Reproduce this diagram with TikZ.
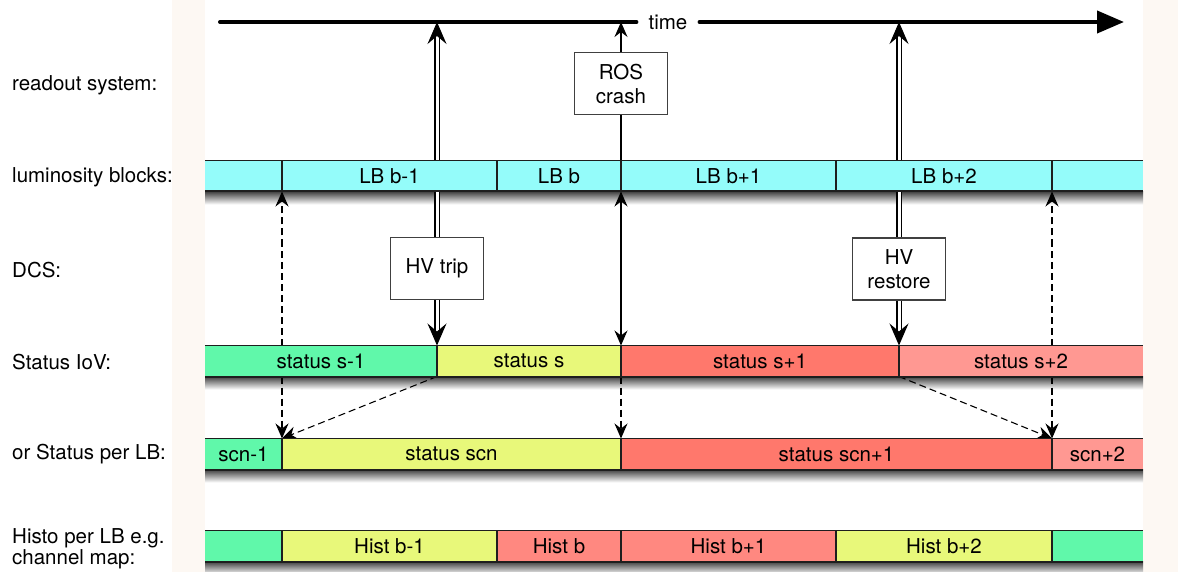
\documentclass[tikz,border=0pt]{standalone}
\usepackage{fontspec}
\setmainfont{TeX Gyre Heros}
\usetikzlibrary{
  arrows.meta,
  positioning,
  backgrounds
}
\definecolor{lbcyan}{RGB}{148,252,250}
\definecolor{okgreen}{RGB}{96,248,170}
\definecolor{warnyellow}{RGB}{232,248,122}
\definecolor{badred}{RGB}{255,120,108}
\definecolor{badpink}{RGB}{255,152,146}
\definecolor{histred}{RGB}{255,136,128}
\definecolor{margin}{RGB}{253,248,243}
\definecolor{edge}{RGB}{30,30,30}

\begin{document}
\begin{tikzpicture}[
  x=1pt, y=-1pt,
  every node/.style={font=\fontsize{20.5}{21}\selectfont},
  rowlabel/.style={anchor=west, align=left, inner sep=0pt},
  seg/.style={anchor=west, minimum height=31pt, inner sep=0pt, outer sep=0pt},
  eventbox/.style={draw=edge!85, line width=1.1pt, fill=white,
               minimum width=93pt, minimum height=62pt, align=center,
               font=\fontsize{20.5}{24}\selectfont},
  topline/.style={draw=edge, line width=1.4pt},
  botline/.style={draw=edge, line width=2pt},
  divline/.style={draw=edge, line width=1.1pt},
  rowshadow/.style={top color=black!75, middle color=black!30, bottom color=white, draw=none},
  timeline/.style={line width=4pt, line cap=round},
  dblline/.style={double, double distance=3pt, line width=1.1pt, shorten >=8pt},
  dbltip/.style={draw=white, line width=1pt,
               -{Stealth[length=22pt, width=19pt, inset=8pt, black]}},
  thinarrow/.style={line width=1.1pt, -{Stealth[length=15pt, width=13pt, inset=5pt]}},
  thinboth/.style={line width=1.1pt,
               {Stealth[length=15pt, width=13pt, inset=5pt]}-{Stealth[length=15pt, width=13pt, inset=5pt]}},
  dasharrow/.style={line width=1.1pt, dash pattern=on 7pt off 4pt,
               -{Stealth[length=15pt, width=13pt, inset=5pt]}}
]
\useasboundingbox (0,0) rectangle (1178,572);

% row labels
\node[rowlabel] (lread) at (12,85) {readout system:};
\node[rowlabel] (llumi) at (12,177) {luminosity blocks:};
\node[rowlabel] (ldcs) at (12,270) {DCS:};
\node[rowlabel] (liov) at (12,362) {Status IoV:};
\node[rowlabel] (lplb) at (12,454) {or Status per LB:};
\node[rowlabel] (lhist) at (12,549) {Histo per LB e.g.\\channel map:};

% time axis
\coordinate (tstart) at (220,22);
\coordinate (tend) at (1124,22);
\node[inner xsep=12pt] (time) at (668,22) {time};
\draw[timeline] (tstart) -- (time);
\draw[timeline, -{Triangle[length=27pt, width=22pt]}] (time) -- (tend);

% luminosity blocks
\node[seg, fill=lbcyan, minimum width=77pt] (lb0) at (205,176) {};
\node[seg, fill=lbcyan, minimum width=215pt] (lb1) at (282,176) {LB b-1};
\node[seg, fill=lbcyan, minimum width=124pt] (lb2) at (497,176) {LB b};
\node[seg, fill=lbcyan, minimum width=215pt] (lb3) at (621,176) {LB b+1};
\node[seg, fill=lbcyan, minimum width=216pt] (lb4) at (836,176) {LB b+2};
\node[seg, fill=lbcyan, minimum width=91pt] (lb5) at (1052,176) {};

% status intervals of validity
\node[seg, fill=okgreen, minimum width=232pt] (st1) at (205,361) {status s-1};
\node[seg, fill=warnyellow, minimum width=184pt] (st2) at (437,361) {status s};
\node[seg, fill=badred, minimum width=278pt] (st3) at (621,361) {status s+1};
\node[seg, fill=badpink, minimum width=244pt] (st4) at (899,361) {status s+2};

% status per LB
\node[seg, fill=okgreen, minimum width=77pt] (sc1) at (205,454) {scn-1};
\node[seg, fill=warnyellow, minimum width=339pt] (sc2) at (282,454) {status scn};
\node[seg, fill=badred, minimum width=431pt] (sc3) at (621,454) {status scn+1};
\node[seg, fill=badpink, minimum width=91pt] (sc4) at (1052,454) {scn+2};

% histograms per LB
\node[seg, fill=okgreen, minimum width=77pt] (hi0) at (205,546) {};
\node[seg, fill=warnyellow, minimum width=215pt] (hi1) at (282,546) {Hist b-1};
\node[seg, fill=histred, minimum width=124pt] (hi2) at (497,546) {Hist b};
\node[seg, fill=histred, minimum width=215pt] (hi3) at (621,546) {Hist b+1};
\node[seg, fill=warnyellow, minimum width=216pt] (hi4) at (836,546) {Hist b+2};
\node[seg, fill=okgreen, minimum width=91pt] (hi5) at (1052,546) {};

% edges of the bars
\foreach \a/\b in {lb0/lb5, st1/st4, sc1/sc4, hi0/hi5} {
  \draw[topline] (\a.north west) -- (\b.north east);
  \draw[botline] (\a.south west) -- (\b.south east);
}
\foreach \n in {lb1, lb2, lb3, lb4, lb5, st2, st3, st4, sc2, sc3, sc4,
                hi1, hi2, hi3, hi4, hi5}
  \draw[divline] (\n.north west) -- (\n.south west);

% events
\node[eventbox] (ros) at (621,83.5) {ROS\\crash};
\node[eventbox] (hvtrip) at (437,268.5) {HV trip};
\node[eventbox] (hvrest) at (899,269) {HV\\restore};

\begin{pgfonlayer}{background}
  \fill[margin] (172,0) rectangle (205,572);
  \fill[margin] (1143,0) rectangle (1178,572);
  \foreach \a/\b in {lb0/lb5, st1/st4, sc1/sc4, hi0/hi5}
    \shade[rowshadow] (\a.south west) rectangle ([yshift=-13pt]\b.south east);

  % readout crash
  \draw[thinarrow] (ros.north) -- (ros.north |- tstart);
  \draw[line width=1.1pt] (ros.south) -- (lb3.north west);
  \draw[thinboth] (lb3.south west) -- (st3.north west);
  \draw[dasharrow] (st3.south west) -- (sc3.north west);

  % HV trip and restore
  \foreach \ev/\st in {hvtrip/st2, hvrest/st4} {
    \draw[dblline] (\ev.north) -- (\ev.north |- tstart);
    \draw[dbltip] (\ev.north) -- (\ev.north |- tstart);
    \draw[dblline] (\ev.south) -- (\st.north west);
    \draw[dbltip] (\ev.south) -- (\st.north west);
  }

  % mapping of IoV onto LB boundaries
  \draw[dasharrow] (lb1.south west |- st1.north) -- (lb1.south west);
  \draw[dasharrow] (sc2.north west |- st1.south) -- (sc2.north west);
  \draw[dasharrow] (st2.south west) -- (sc2.north west);
  \draw[dasharrow] (lb5.south west |- st4.north) -- (lb5.south west);
  \draw[dasharrow] (sc4.north west |- st4.south) -- (sc4.north west);
  \draw[dasharrow] (st4.south west) -- (sc4.north west);
\end{pgfonlayer}

\end{tikzpicture}
\end{document}
